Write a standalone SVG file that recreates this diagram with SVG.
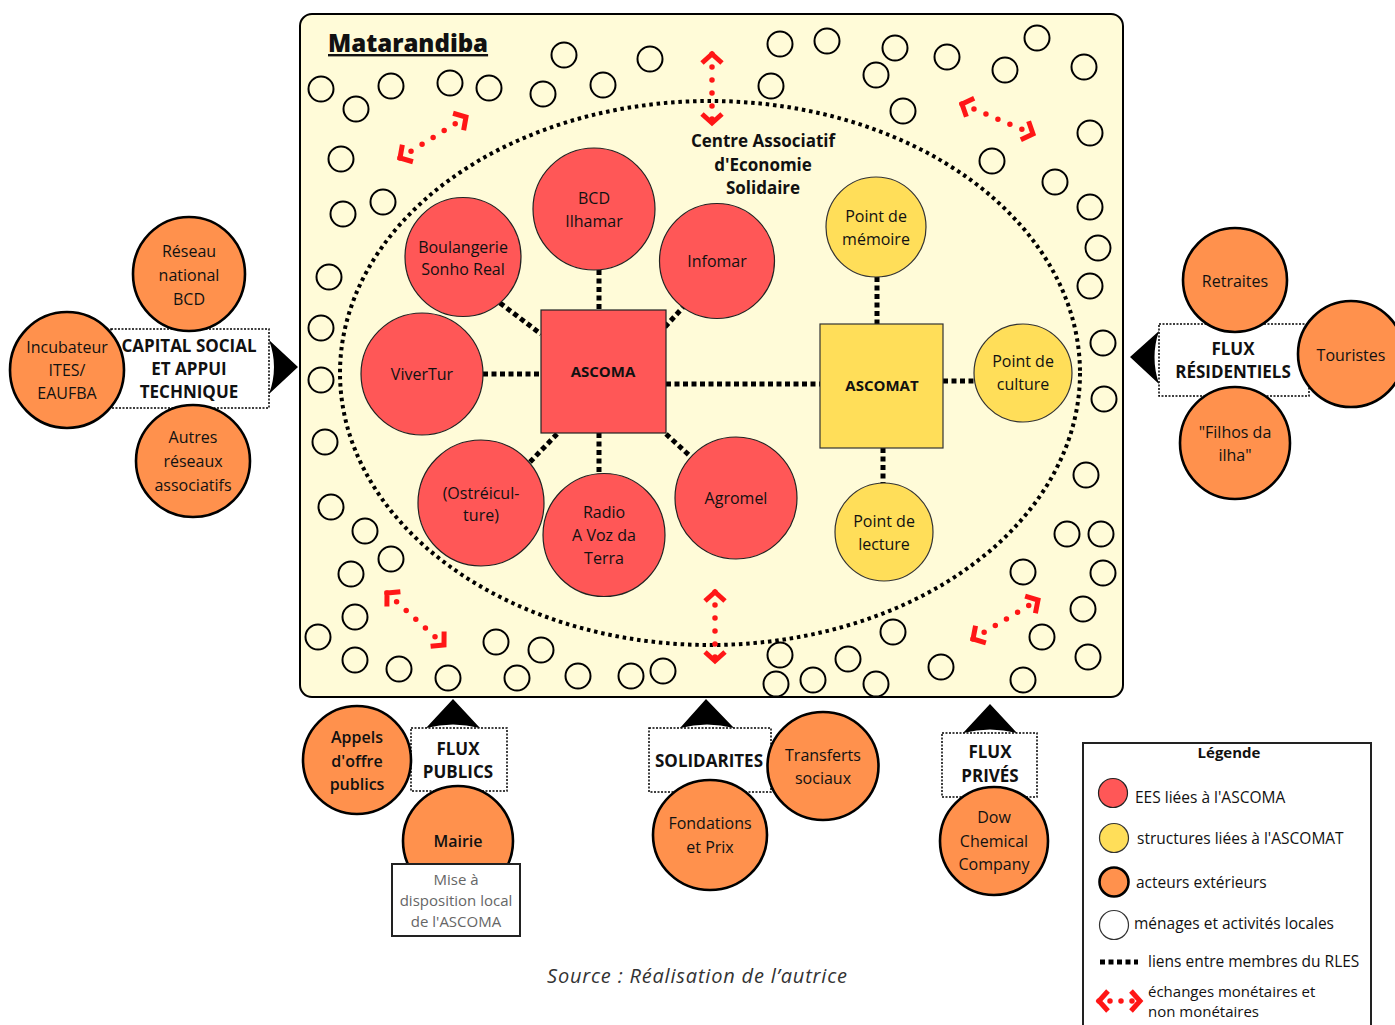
<svg xmlns="http://www.w3.org/2000/svg" width="1395" height="1025" viewBox="0 0 1395 1025">
<defs>
<marker id="chev" viewBox="-14 -14 28 28" markerWidth="28" markerHeight="28" refX="0" refY="0" markerUnits="userSpaceOnUse" orient="auto-start-reverse">
<path d="M-9,-10 L0,0 L-9,10" fill="none" stroke="#FF1616" stroke-width="5" stroke-linejoin="miter"/>
</marker>
<style>
text{font-family:"Open Sans","Noto Sans","DejaVu Sans",sans-serif;fill:#111;text-anchor:middle}
.t{font-size:16px}
.b{font-size:17px;font-weight:700}
.sb{font-weight:600}
.lg{font-size:15.5px;text-anchor:start}
.hh{fill:none;stroke:#000;stroke-width:2}
.red{fill:#FF5757;stroke:#222;stroke-width:1.2}
.yel{fill:#FFDE59;stroke:#333;stroke-width:1.2}
.ora{fill:#FF914D;stroke:#000;stroke-width:2.6}
.lnk{fill:none;stroke:#000;stroke-width:5;stroke-dasharray:5 3.5}
.ell{fill:none;stroke:#000;stroke-width:4;stroke-dasharray:3.5 3.8}
.dbox{fill:#fff;stroke:#000;stroke-width:1.5;stroke-dasharray:2 1.5}
.xch{fill:none;stroke:#FF1616;stroke-width:5.5;stroke-linecap:round;stroke-dasharray:0 13;marker-start:url(#chev);marker-end:url(#chev)}
.tri{fill:#000}
.mise{font-size:15px;font-weight:400;fill:#666}
</style>
</defs>
<rect width="1395" height="1025" fill="#fff"/>

<g id="matarandiba">
<rect x="300" y="14" width="823" height="683" rx="12" fill="#FFFBD8" stroke="#000" stroke-width="2"/>
<text x="328" y="52" style="font-size:24px;font-weight:800;text-anchor:start;text-decoration:underline">Matarandiba</text>
</g>

<g id="menages">
<circle class="hh" cx="321" cy="89" r="12.5"/><circle class="hh" cx="356" cy="109" r="12.5"/><circle class="hh" cx="391" cy="86" r="12.5"/>
<circle class="hh" cx="450" cy="83" r="12.5"/><circle class="hh" cx="489" cy="88" r="12.5"/><circle class="hh" cx="543" cy="94" r="12.5"/>
<circle class="hh" cx="564" cy="55" r="12.5"/><circle class="hh" cx="603" cy="85" r="12.5"/><circle class="hh" cx="650" cy="59" r="12.5"/>
<circle class="hh" cx="341" cy="159" r="12.5"/><circle class="hh" cx="343" cy="214" r="12.5"/><circle class="hh" cx="383" cy="202" r="12.5"/>
<circle class="hh" cx="329" cy="277" r="12.5"/><circle class="hh" cx="321" cy="328" r="12.5"/><circle class="hh" cx="321" cy="380" r="12.5"/>
<circle class="hh" cx="780" cy="44" r="12.5"/><circle class="hh" cx="827" cy="41" r="12.5"/><circle class="hh" cx="771" cy="86" r="12.5"/>
<circle class="hh" cx="895" cy="48" r="12.5"/><circle class="hh" cx="876" cy="75" r="12.5"/><circle class="hh" cx="947" cy="57" r="12.5"/>
<circle class="hh" cx="1005" cy="70" r="12.5"/><circle class="hh" cx="1037" cy="38" r="12.5"/><circle class="hh" cx="1084" cy="67" r="12.5"/>
<circle class="hh" cx="903" cy="111" r="12.5"/><circle class="hh" cx="1090" cy="133" r="12.5"/><circle class="hh" cx="992" cy="161" r="12.5"/>
<circle class="hh" cx="1055" cy="182" r="12.5"/><circle class="hh" cx="1090" cy="207" r="12.5"/><circle class="hh" cx="1098" cy="248" r="12.5"/>
<circle class="hh" cx="1090" cy="286" r="12.5"/><circle class="hh" cx="1103" cy="343" r="12.5"/><circle class="hh" cx="1104" cy="399" r="12.5"/>
<circle class="hh" cx="1086" cy="475" r="12.5"/><circle class="hh" cx="1067" cy="534" r="12.5"/><circle class="hh" cx="1101" cy="534" r="12.5"/>
<circle class="hh" cx="1023" cy="572" r="12.5"/><circle class="hh" cx="1103" cy="573" r="12.5"/><circle class="hh" cx="1083" cy="609" r="12.5"/>
<circle class="hh" cx="1042" cy="637" r="12.5"/><circle class="hh" cx="1088" cy="657" r="12.5"/><circle class="hh" cx="1023" cy="680" r="12.5"/>
<circle class="hh" cx="941" cy="667" r="12.5"/><circle class="hh" cx="893" cy="632" r="12.5"/><circle class="hh" cx="848" cy="659" r="12.5"/>
<circle class="hh" cx="876" cy="684" r="12.5"/><circle class="hh" cx="813" cy="680" r="12.5"/><circle class="hh" cx="780" cy="655" r="12.5"/>
<circle class="hh" cx="776" cy="684" r="12.5"/>
<circle class="hh" cx="325" cy="442" r="12.5"/><circle class="hh" cx="331" cy="507" r="12.5"/><circle class="hh" cx="365" cy="531" r="12.5"/>
<circle class="hh" cx="391" cy="559" r="12.5"/><circle class="hh" cx="351" cy="574" r="12.5"/><circle class="hh" cx="355" cy="617" r="12.5"/>
<circle class="hh" cx="318" cy="637" r="12.5"/><circle class="hh" cx="355" cy="660" r="12.5"/><circle class="hh" cx="399" cy="669" r="12.5"/>
<circle class="hh" cx="448" cy="678" r="12.5"/><circle class="hh" cx="496" cy="642" r="12.5"/><circle class="hh" cx="541" cy="650" r="12.5"/>
<circle class="hh" cx="517" cy="678" r="12.5"/><circle class="hh" cx="578" cy="676" r="12.5"/><circle class="hh" cx="631" cy="676" r="12.5"/>
<circle class="hh" cx="663" cy="671" r="12.5"/>
</g>

<g id="centre-associatif">
<ellipse class="ell" cx="710" cy="373" rx="370" ry="272"/>
<text class="b" x="763" y="147">Centre Associatif</text>
<text class="b" x="763" y="171">d'Economie</text>
<text class="b" x="763" y="194">Solidaire</text>
</g>

<g id="connectors">
<path class="lnk" d="M599,270 V310"/>
<path class="lnk" d="M500,303 L541,334"/>
<path class="lnk" d="M665,327 L686,304"/>
<path class="lnk" d="M483,374 H541"/>
<path class="lnk" d="M666,384 H820"/>
<path class="lnk" d="M530,462 L558,433"/>
<path class="lnk" d="M599,433 V473"/>
<path class="lnk" d="M666,434 L690,456"/>
<path class="lnk" d="M877,277 V324"/>
<path class="lnk" d="M943,381 H974"/>
<path class="lnk" d="M883,448 V483"/>
</g>

<g id="echanges">
<path class="xch" d="M712,54 V123"/>
<path class="xch" d="M400,158 L466,117"/>
<path class="xch" d="M962,104 L1033,134"/>
<path class="xch" d="M387,593 L444,645"/>
<path class="xch" d="M715,592 V661"/>
<path class="xch" d="M973,639 L1038,600"/>
</g>

<g id="bcd-ilhamar"><ellipse class="red" cx="594" cy="209" rx="61" ry="61"/><text class="t" x="594" y="204">BCD</text><text class="t" x="594" y="227">Ilhamar</text></g>
<g id="boulangerie"><ellipse class="red" cx="463" cy="257" rx="58" ry="59.5"/><text class="t" x="463" y="253">Boulangerie</text><text class="t" x="463" y="275">Sonho Real</text></g>
<g id="infomar"><ellipse class="red" cx="717" cy="261" rx="57.5" ry="57.5"/><text class="t" x="717" y="267">Infomar</text></g>
<g id="vivertur"><ellipse class="red" cx="422" cy="374" rx="61" ry="61"/><text class="t" x="422" y="380">ViverTur</text></g>
<g id="ascoma"><rect class="red" x="541" y="310" width="125" height="123"/><text x="603" y="377" style="font-size:15px;font-weight:700">ASCOMA</text></g>
<g id="ostreiculture"><ellipse class="red" cx="481" cy="503" rx="63" ry="63"/><text class="t" x="481" y="499">(Ostréicul-</text><text class="t" x="481" y="521">ture)</text></g>
<g id="radio"><ellipse class="red" cx="604" cy="535" rx="61" ry="61.5"/><text class="t" x="604" y="518">Radio</text><text class="t" x="604" y="541">A Voz da</text><text class="t" x="604" y="564">Terra</text></g>
<g id="agromel"><ellipse class="red" cx="736" cy="498" rx="61" ry="61"/><text class="t" x="736" y="504">Agromel</text></g>

<g id="point-memoire"><ellipse class="yel" cx="876" cy="227" rx="50" ry="50"/><text class="t" x="876" y="222">Point de</text><text class="t" x="876" y="245">mémoire</text></g>
<g id="ascomat"><rect class="yel" x="820" y="324" width="123" height="124"/><text x="882" y="391" style="font-size:15px;font-weight:700">ASCOMAT</text></g>
<g id="point-culture"><ellipse class="yel" cx="1023" cy="373" rx="49" ry="49"/><text class="t" x="1023" y="367">Point de</text><text class="t" x="1023" y="390">culture</text></g>
<g id="point-lecture"><ellipse class="yel" cx="884" cy="532" rx="49" ry="49"/><text class="t" x="884" y="527">Point de</text><text class="t" x="884" y="550">lecture</text></g>

<g id="capital-social">
<rect class="dbox" x="111" y="329" width="158" height="79"/>
<path class="tri" d="M269,340 L298,367 L269,394 Q279,367 269,340Z"/>
</g>
<g id="reseau-bcd"><ellipse class="ora" cx="189" cy="274" rx="56" ry="57"/><text class="t" x="189" y="257">Réseau</text><text class="t" x="189" y="281">national</text><text class="t" x="189" y="305">BCD</text></g>
<g id="incubateur"><ellipse class="ora" cx="67" cy="370" rx="57" ry="58"/><text class="t" x="67" y="353">Incubateur</text><text class="t" x="67" y="376">ITES/</text><text class="t" x="67" y="399">EAUFBA</text></g>
<g id="autres-reseaux"><ellipse class="ora" cx="193" cy="461" rx="57" ry="56"/><text class="t" x="193" y="443">Autres</text><text class="t" x="193" y="467">réseaux</text><text class="t" x="193" y="491">associatifs</text></g>
<g id="capital-social-label"><text class="b" x="189" y="352">CAPITAL SOCIAL</text><text class="b" x="189" y="375">ET APPUI</text><text class="b" x="189" y="398">TECHNIQUE</text></g>

<g id="flux-residentiels">
<rect class="dbox" x="1159" y="324" width="150" height="72"/>
<path class="tri" d="M1159,331 L1130,357 L1159,384 Q1150,357 1159,331Z"/>
</g>
<g id="retraites"><ellipse class="ora" cx="1235" cy="280" rx="52" ry="52"/><text class="t" x="1235" y="287">Retraites</text></g>
<g id="touristes"><ellipse class="ora" cx="1351" cy="354" rx="53" ry="53"/><text class="t" x="1351" y="361">Touristes</text></g>
<g id="filhos"><ellipse class="ora" cx="1235" cy="443" rx="55" ry="56"/><text class="t" x="1235" y="438">"Filhos da</text><text class="t" x="1235" y="461">ilha"</text></g>
<g id="flux-residentiels-label"><text class="b" x="1233" y="355">FLUX</text><text class="b" x="1233" y="378">RÉSIDENTIELS</text></g>

<g id="flux-publics">
<rect class="dbox" x="411" y="728" width="96" height="63"/>
<path class="tri" d="M426,728 L453,699 L480,728 Q453,721 426,728Z"/>
</g>
<g id="appels"><ellipse class="ora" cx="357" cy="760" rx="54" ry="54"/><text class="t sb" x="357" y="743">Appels</text><text class="t sb" x="357" y="767">d'offre</text><text class="t sb" x="357" y="790">publics</text></g>
<g id="mairie"><ellipse class="ora" cx="458" cy="841" rx="55" ry="55"/><text class="t sb" x="458" y="847">Mairie</text>
<rect x="392" y="864" width="128" height="72" fill="#fff" stroke="#222" stroke-width="2"/>
<text class="mise" x="456" y="885">Mise à</text>
<text class="mise" x="456" y="906">disposition local</text>
<text class="mise" x="456" y="927">de l'ASCOMA</text></g>
<g id="flux-publics-label"><text class="b" x="458" y="755">FLUX</text><text class="b" x="458" y="778">PUBLICS</text></g>

<g id="solidarites">
<rect class="dbox" x="649" y="728" width="122" height="64"/>
<path class="tri" d="M680,728 L706,699 L734,728 Q707,721 680,728Z"/>
</g>
<g id="transferts"><ellipse class="ora" cx="823" cy="766" rx="55.5" ry="54"/><text class="t" x="823" y="761">Transferts</text><text class="t" x="823" y="784">sociaux</text></g>
<g id="fondations"><ellipse class="ora" cx="710" cy="835" rx="57" ry="55"/><text class="t" x="710" y="829">Fondations</text><text class="t" x="710" y="853">et Prix</text></g>
<g id="solidarites-label"><text class="b" x="709" y="767">SOLIDARITES</text></g>

<g id="flux-prives">
<rect class="dbox" x="942" y="733" width="95" height="64"/>
<path class="tri" d="M963,733 L990,704 L1017,733 Q990,726 963,733Z"/>
</g>
<g id="dow"><ellipse class="ora" cx="994" cy="841" rx="54" ry="54"/><text class="t" x="994" y="823">Dow</text><text class="t" x="994" y="847">Chemical</text><text class="t" x="994" y="870">Company</text></g>
<g id="flux-prives-label"><text class="b" x="990" y="758">FLUX</text><text class="b" x="990" y="782">PRIVÉS</text></g>

<g id="legende">
<rect x="1083" y="743" width="288" height="300" fill="#fff" stroke="#222" stroke-width="2"/>
<text x="1229" y="758" style="font-size:15px;font-weight:700">Légende</text>
<circle class="red" cx="1113" cy="793" r="14.5"/><text class="lg" x="1135" y="803">EES liées à l'ASCOMA</text>
<circle class="yel" cx="1114" cy="838" r="14.5"/><text class="lg" x="1137" y="844">structures liées à l'ASCOMAT</text>
<circle class="ora" cx="1114" cy="882" r="14.5"/><text class="lg" x="1136" y="888">acteurs extérieurs</text>
<circle cx="1114" cy="925" r="14.5" fill="#fff" stroke="#333" stroke-width="1.2"/><text class="lg" x="1134" y="929">ménages et activités locales</text>
<path class="lnk" d="M1100,962 H1138"/><text class="lg" x="1148" y="967">liens entre membres du RLES</text>
<path class="xch" d="M1099,1001 H1140" style="stroke-dasharray:0 11"/>
<text class="lg" x="1148" y="997" style="font-size:15px">échanges monétaires et</text>
<text class="lg" x="1148" y="1017" style="font-size:15px">non monétaires</text>
</g>

<text x="697" y="983" textLength="300" lengthAdjust="spacing" style="font-size:20px;font-style:italic;font-weight:400;fill:#333">Source : Réalisation de l’autrice</text>
</svg>
